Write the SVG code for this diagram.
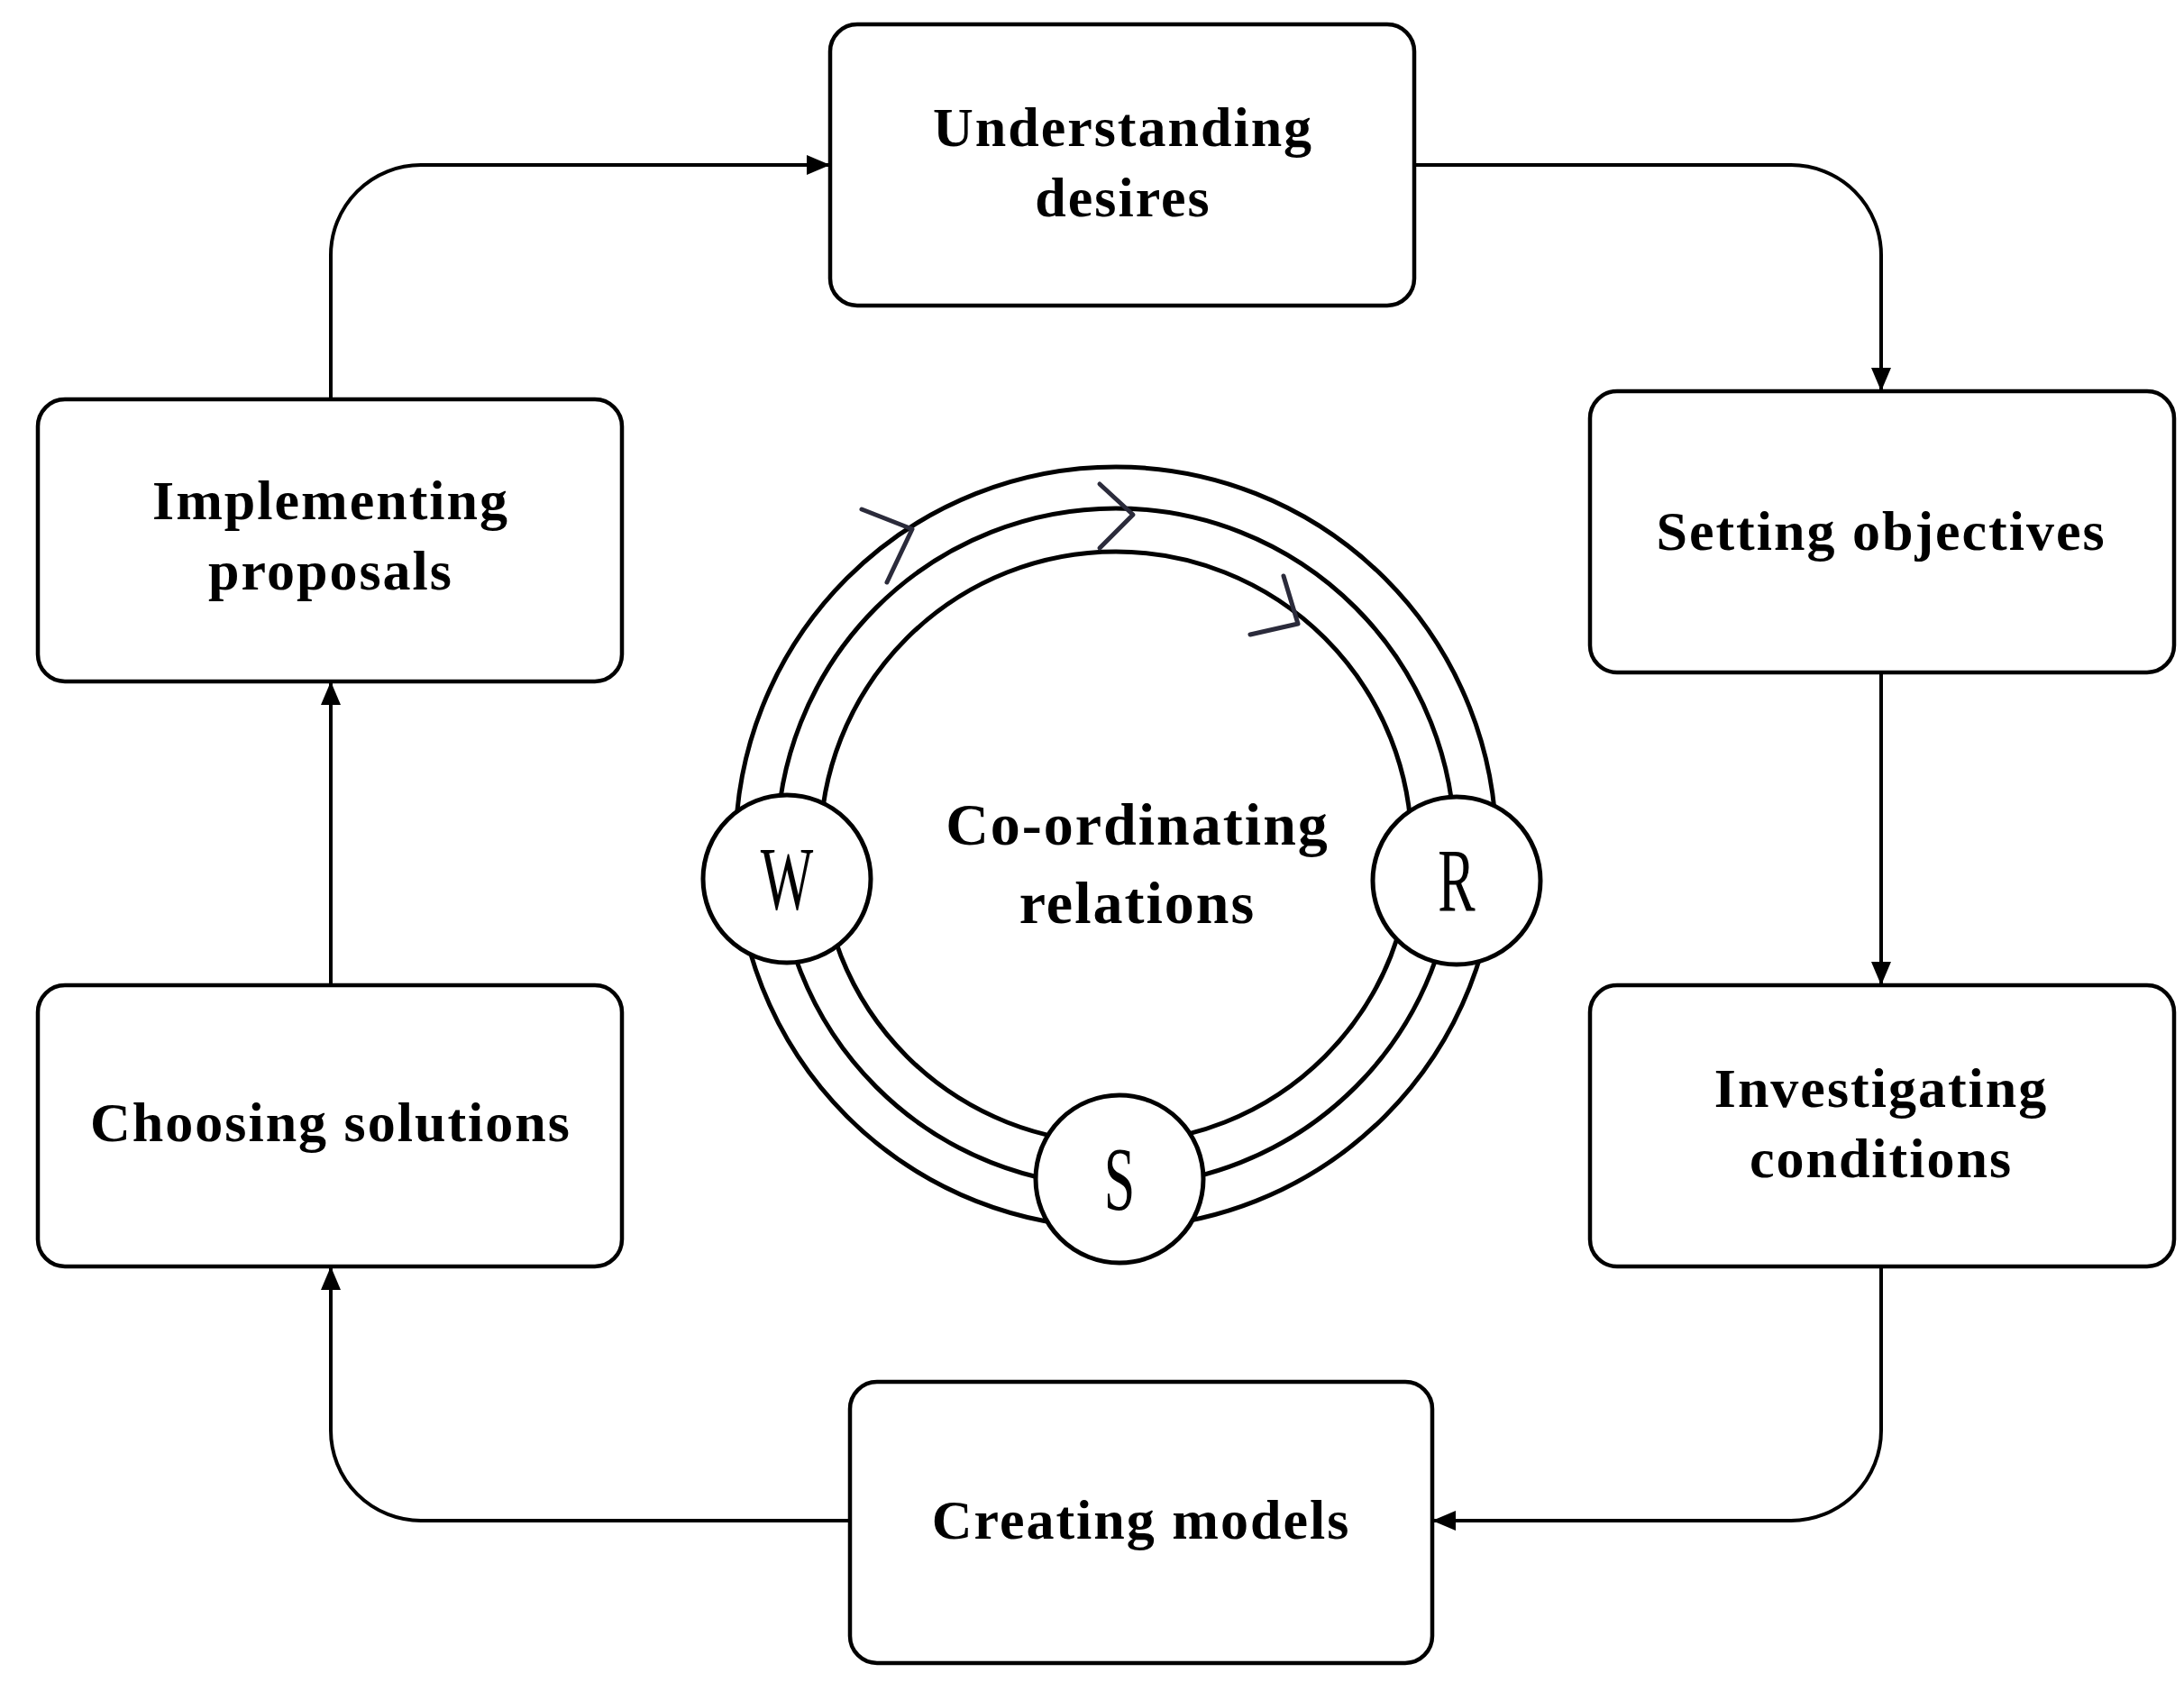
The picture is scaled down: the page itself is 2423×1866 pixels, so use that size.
<svg xmlns="http://www.w3.org/2000/svg" width="2423" height="1866" viewBox="0 0 2423 1866">
<style>
.box{fill:#fff;stroke:#000;stroke-width:4.5}
.t{font-family:"Liberation Serif",serif;font-weight:bold;font-size:62px;letter-spacing:2px;text-anchor:middle;fill:#000}
.c{fill:none;stroke:#000;stroke-width:4}
.ring{fill:none;stroke:#000;stroke-width:5}
.node{fill:#fff;stroke:#000;stroke-width:5}
.l{font-family:"Liberation Serif",serif;font-size:100px;text-anchor:middle;fill:#000}
.chev{fill:none;stroke:#2b2b3b;stroke-width:5;stroke-linecap:round;stroke-linejoin:round}
</style>
<defs>
<marker id="a" markerUnits="userSpaceOnUse" markerWidth="30" markerHeight="30" viewBox="0 0 30 30" refX="28" refY="15" orient="auto">
<path d="M2,4 L28,15 L2,26 Z" fill="#000"/>
</marker>
</defs>
<rect width="2423" height="1866" fill="#fff"/>
<g id="connectors">
<path class="c" d="M1569,183 H1987 A100,100 0 0 1 2087,283 V434" marker-end="url(#a)"/>
<path class="c" d="M2087,746 V1093" marker-end="url(#a)"/>
<path class="c" d="M2087,1405 V1587 A100,100 0 0 1 1987,1687 H1589" marker-end="url(#a)"/>
<path class="c" d="M943,1687 H467 A100,100 0 0 1 367,1587 V1405" marker-end="url(#a)"/>
<path class="c" d="M367,1093 V756" marker-end="url(#a)"/>
<path class="c" d="M367,443 V283 A100,100 0 0 1 467,183 H921" marker-end="url(#a)"/>
</g>
<g id="understanding"><rect class="box" x="921" y="27" width="648" height="312" rx="30"/><text class="t" x="1246" y="162">Understanding</text><text class="t" x="1246" y="240">desires</text></g>
<g id="setting"><rect class="box" x="1764" y="434" width="648" height="312" rx="30"/><text class="t" x="2087" y="610">Setting objectives</text></g>
<g id="investigating"><rect class="box" x="1764" y="1093" width="648" height="312" rx="30"/><text class="t" x="2087" y="1228">Investigating</text><text class="t" x="2087" y="1306">conditions</text></g>
<g id="creating"><rect class="box" x="943" y="1533" width="646" height="312" rx="30"/><text class="t" x="1266" y="1707">Creating models</text></g>
<g id="choosing"><rect class="box" x="42" y="1093" width="648" height="312" rx="30"/><text class="t" x="367" y="1266">Choosing solutions</text></g>
<g id="implementing"><rect class="box" x="42" y="443" width="648" height="313" rx="30"/><text class="t" x="367" y="576">Implementing</text><text class="t" x="367" y="654">proposals</text></g>
<g id="cycle">
<circle class="ring" cx="1238" cy="940" r="422"/>
<circle class="ring" cx="1238" cy="940" r="376"/>
<circle class="ring" cx="1238" cy="940" r="328"/>
<polyline class="chev" points="956,565 1012,587 984,646"/>
<polyline class="chev" points="1220,537 1257,571 1220,608"/>
<polyline class="chev" points="1387,704 1440,692 1424,639"/>
<text class="t" x="1262" y="937" style="font-size:66px">Co-ordinating</text>
<text class="t" x="1262" y="1024" style="font-size:66px">relations</text>
</g>
<g id="W"><circle class="node" cx="873" cy="975" r="93"/><text class="l" x="873" y="1008" transform="translate(873 0) scale(0.62 1) translate(-873 0)">W</text></g>
<g id="R"><circle class="node" cx="1616" cy="977" r="93"/><text class="l" x="1616" y="1010" transform="translate(1616 0) scale(0.62 1) translate(-1616 0)">R</text></g>
<g id="S"><circle class="node" cx="1242" cy="1308" r="93"/><text class="l" x="1242" y="1341" transform="translate(1242 0) scale(0.62 1) translate(-1242 0)">S</text></g>
</svg>
